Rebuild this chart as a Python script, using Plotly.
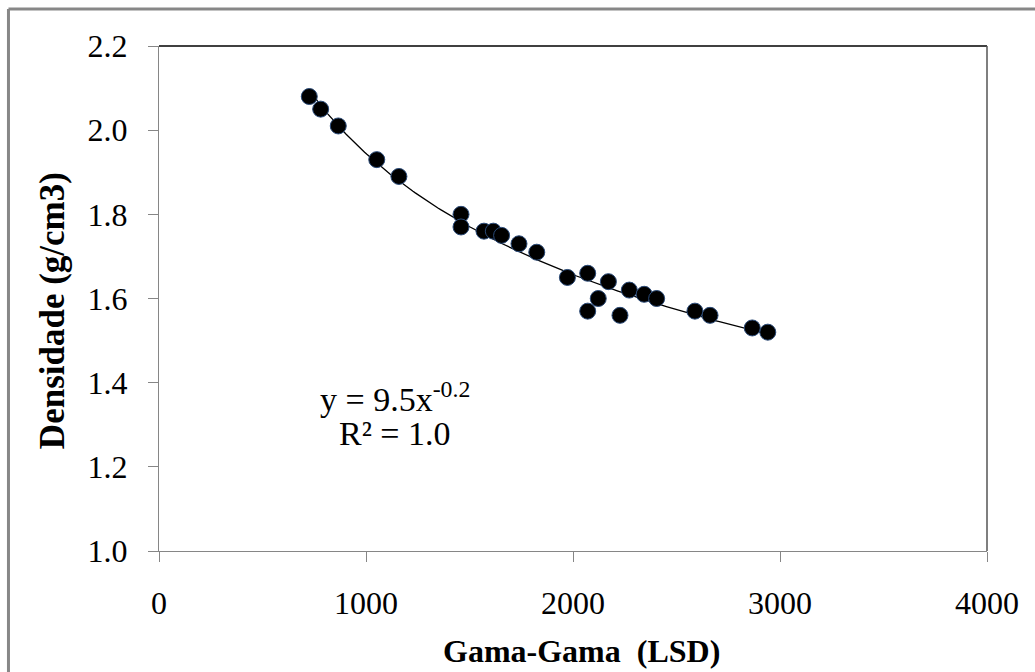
import numpy as np
import plotly.graph_objects as go

# Data
gama_gama = [726, 781, 866, 1052, 1159, 1459, 1459, 1570, 1615, 1655, 1739, 1825,
             1973, 2071, 2071, 2122, 2171, 2227, 2272, 2344, 2404, 2589, 2662, 2866, 2941]
densidade = [2.08, 2.05, 2.01, 1.93, 1.89, 1.80, 1.77, 1.76, 1.76, 1.75, 1.73, 1.71,
             1.65, 1.66, 1.57, 1.60, 1.64, 1.56, 1.62, 1.61, 1.60, 1.57, 1.56, 1.53, 1.52]
x_ticks = [0, 1000, 2000, 3000, 4000]
y_ticks = [1.0, 1.2, 1.4, 1.6, 1.8, 2.0, 2.2]
x_title = "<b>Gama-Gama  (LSD)</b>"
y_title = "<b>Densidade (g/cm3)</b>"
equation_line = "y = 9.5x<sup>-0.2</sup>"
r2_line = "R² = 1.0"

# Power trendline fitted to the data (log-log least squares)
xa = np.array(gama_gama, dtype=float)
ya = np.array(densidade, dtype=float)
b, ln_a = np.polyfit(np.log(xa), np.log(ya), 1)
xt = np.linspace(xa.min(), xa.max(), 200)
yt = np.exp(ln_a) * xt ** b

FONT = "Liberation Serif"

fig = go.Figure()
fig.add_trace(go.Scatter(x=xt, y=yt, mode="lines",
                         line=dict(color="black", width=1.3), hoverinfo="skip"))
fig.add_trace(go.Scatter(x=gama_gama, y=densidade, mode="markers",
                         marker=dict(size=16, color="black",
                                     line=dict(color="#2a4a78", width=1))))

axis_common = dict(showgrid=False, zeroline=False, showline=True, linecolor="#868686",
                   linewidth=1, ticks="outside", ticklen=10, tickcolor="#868686",
                   tickfont=dict(family=FONT, size=32, color="black"),
                   ticklabelstandoff=14, automargin=False)

fig.update_layout(
    width=1035, height=672,
    margin=dict(l=159, r=48, t=46, b=121),
    paper_bgcolor="white", plot_bgcolor="white",
    showlegend=False,
    font=dict(family=FONT, color="black", size=32),
    xaxis=dict(range=[0, 4000], tickvals=x_ticks, tickformat="d", **axis_common),
    yaxis=dict(range=[1.0, 2.2], tickvals=y_ticks, tickformat=".1f", **axis_common),
    shapes=[
        # plot area top and right borders
        dict(type="line", xref="paper", yref="paper", x0=0, x1=1, y0=1, y1=1,
             line=dict(color="black", width=1.5)),
        dict(type="line", xref="paper", yref="paper", x0=1, x1=1, y0=0, y1=1,
             line=dict(color="#555555", width=1.5)),
        # outer chart frame
        dict(type="line", xref="paper", yref="paper", x0=-0.1818, x1=1.1, y0=1.0733, y1=1.0733,
             line=dict(color="#878787", width=3)),
        dict(type="line", xref="paper", yref="paper", x0=-0.1818, x1=-0.1818, y0=1.0733, y1=-0.3,
             line=dict(color="#878787", width=3)),
    ],
    annotations=[
        dict(text=equation_line, xref="x", yref="y", x=1140, y=1.365,
             showarrow=False, align="center", font=dict(family=FONT, size=34, color="black")),
        dict(text=r2_line, xref="x", yref="y", x=1140, y=1.28,
             showarrow=False, align="center", font=dict(family=FONT, size=34, color="black")),
        dict(text=x_title, xref="paper", yref="paper", x=0.5097, y=-0.199,
             xanchor="center", yanchor="middle", showarrow=False,
             font=dict(family=FONT, size=32, color="black")),
        dict(text=y_title, xref="paper", yref="paper", x=-0.1292, y=0.475,
             xanchor="center", yanchor="middle", textangle=-90, showarrow=False,
             font=dict(family=FONT, size=35, color="black")),
    ],
)

fig.write_html("out.html")
